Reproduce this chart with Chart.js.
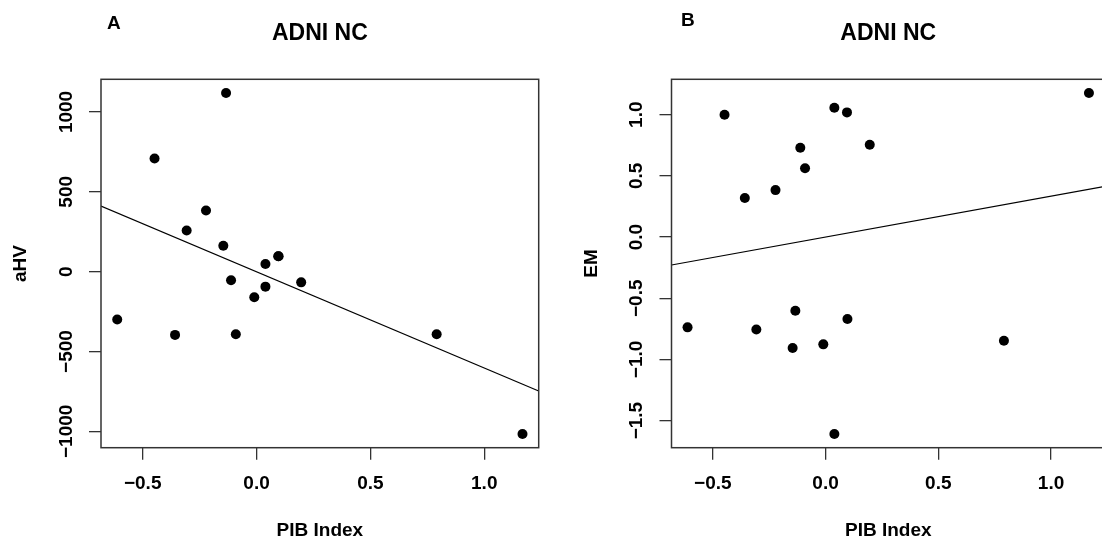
<!DOCTYPE html>
<html>
<head>
<meta charset="utf-8">
<script src="https://cdn.jsdelivr.net/npm/chart.js@4/dist/chart.umd.min.js"></script>
<style>
    html, body { margin: 0; padding: 0; background: #fff; overflow: hidden; }
    #lienzo { position: relative; width: 1102px; height: 540px; overflow: hidden; }
    .panel { position: absolute; top: 0; height: 540px; }
    #panelA { left: 0; width: 551px; }
    #panelB { left: 551px; width: 559px; }
</style>
</head>
<body>
<div id="lienzo">
    <div class="panel" id="panelA"><canvas id="graficoA"></canvas></div>
    <div class="panel" id="panelB"><canvas id="graficoB"></canvas></div>
</div>
<script>
// Datos por sujeto (ADNI NC)
const indicePIB = [-0.612, -0.448, -0.358, -0.307, -0.222, -0.146, -0.134, -0.112, -0.091, -0.010, 0.039, 0.039, 0.095, 0.097, 0.196, 0.791, 1.168];
const valoresAHV = [-300, 709, -396, 258, 383, 162, 1119, -54, -392, -160, 48, -94, 96, 96, -67, -392, -1017];
const valoresEM = [-0.738, 1.000, 0.320, -0.755, 0.384, -0.907, -0.602, 0.730, 0.562, -0.877, 1.057, -1.610, 1.019, -0.670, 0.754, -0.847, 1.178];

// Marcas de los ejes
const ticksPIB = [-0.5, 0.0, 0.5, 1.0];
const ticksAHV = [-1000, -500, 0, 500, 1000];
const ticksEM = [-1.5, -1.0, -0.5, 0.0, 0.5, 1.0];

const FUENTE = '"Liberation Sans", Arial, Helvetica, sans-serif';
Chart.defaults.font.family = FUENTE;
Chart.defaults.font.weight = 'bold';
Chart.defaults.color = '#000';

// Límites como en R: rango de los datos ampliado un 4% por cada lado
function limites(valores) {
    const min = Math.min(...valores);
    const max = Math.max(...valores);
    const d = (max - min) * 0.04;
    return [min - d, max + d];
}

// Recta de mínimos cuadrados
function ajusteLineal(x, y) {
    const n = x.length;
    const mx = x.reduce((s, v) => s + v, 0) / n;
    const my = y.reduce((s, v) => s + v, 0) / n;
    let sxy = 0, sxx = 0;
    for (let i = 0; i < n; i++) {
        sxy += (x[i] - mx) * (y[i] - my);
        sxx += (x[i] - mx) * (x[i] - mx);
    }
    const b = sxy / sxx;
    return { a: my - b * mx, b: b };
}

function formatear(valor, decimales) {
    return valor.toFixed(decimales).replace('-', '\u2212');
}

// Caja del gráfico, título y letra del panel
const marcoYTitulos = {
    id: 'marcoYTitulos',
    afterDraw(chart, args, opts) {
        const { ctx, chartArea: { left, top, right, bottom } } = chart;
        ctx.save();
        ctx.strokeStyle = '#333';
        ctx.lineWidth = 1.5;
        ctx.strokeRect(left, top, right - left, bottom - top);
        ctx.fillStyle = '#000';
        ctx.font = 'bold 23px ' + FUENTE;
        ctx.textAlign = 'center';
        ctx.textBaseline = 'middle';
        ctx.fillText(opts.titulo, (left + right) / 2, 34);
        ctx.font = 'bold 19px ' + FUENTE;
        ctx.textAlign = 'left';
        ctx.textBaseline = 'alphabetic';
        ctx.fillText(opts.letra, opts.letraX, opts.letraY);
        ctx.restore();
    }
};

function crearPanel(id, valoresY, ticksY, decimalesY, etiquetaY, letra, letraX, letraY, relleno, paddingTicksY) {
    const limX = limites(indicePIB);
    const limY = limites(valoresY);
    const ajuste = ajusteLineal(indicePIB, valoresY);
    const puntos = indicePIB.map((x, i) => ({ x: x, y: valoresY[i] }));
    const recta = limX.map(x => ({ x: x, y: ajuste.a + ajuste.b * x }));

    const rejilla = { drawOnChartArea: false, drawTicks: true, tickLength: 12, color: '#333', lineWidth: 1.3 };

    return new Chart(document.getElementById(id), {
        type: 'scatter',
        data: {
            datasets: [{
                data: puntos,
                backgroundColor: '#000',
                borderColor: '#000',
                borderWidth: 0,
                pointRadius: 5,
                pointHoverRadius: 5
            }, {
                type: 'line',
                data: recta,
                borderColor: '#000',
                borderWidth: 1.2,
                pointRadius: 0,
                fill: false
            }]
        },
        options: {
            responsive: true,
            maintainAspectRatio: false,
            animation: false,
            events: [],
            layout: { padding: relleno },
            plugins: {
                legend: { display: false },
                tooltip: { enabled: false },
                marcoYTitulos: { titulo: 'ADNI NC', letra: letra, letraX: letraX, letraY: letraY }
            },
            scales: {
                x: {
                    type: 'linear',
                    min: limX[0],
                    max: limX[1],
                    afterBuildTicks: s => { s.ticks = ticksPIB.map(v => ({ value: v })); },
                    afterFit: s => { s.height = 92.3; },
                    grid: rejilla,
                    border: { display: false },
                    ticks: {
                        font: { size: 19, weight: 'bold' },
                        padding: 13,
                        maxRotation: 0,
                        autoSkip: false,
                        callback: v => formatear(v, 1)
                    },
                    title: {
                        display: true,
                        text: 'PIB Index',
                        font: { size: 19, weight: 'bold', lineHeight: 1 },
                        padding: { top: 0, bottom: 0 }
                    }
                },
                y: {
                    type: 'linear',
                    min: limY[0],
                    max: limY[1],
                    afterBuildTicks: s => { s.ticks = ticksY.map(v => ({ value: v })); },
                    afterFit: s => { s.width = 101; },
                    grid: rejilla,
                    border: { display: false },
                    ticks: {
                        font: { size: 19, weight: 'bold' },
                        minRotation: 90,
                        maxRotation: 90,
                        crossAlign: 'center',
                        padding: paddingTicksY,
                        autoSkip: false,
                        callback: v => formatear(v, decimalesY)
                    },
                    title: {
                        display: true,
                        text: etiquetaY,
                        font: { size: 19, weight: 'bold', lineHeight: 1 },
                        padding: { top: 11.5, bottom: 0 }
                    }
                }
            }
        },
        plugins: [marcoYTitulos]
    });
}

document.addEventListener('DOMContentLoaded', function() {
    crearPanel('graficoA', valoresAHV, ticksAHV, 0, 'aHV', 'A', 107, 29,
        { left: 0, right: 12.3, top: 79.3, bottom: 0 }, -4.7);
    crearPanel('graficoB', valoresEM, ticksEM, 1, 'EM', 'B', 130, 26,
        { left: 19.5, right: 0, top: 79.3, bottom: 0 }, 4.3);
});
</script>
</body>
</html>
